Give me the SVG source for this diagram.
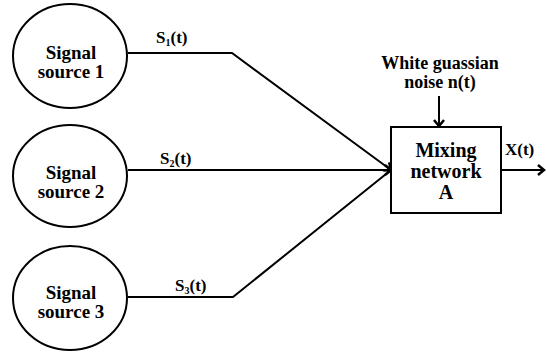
<svg xmlns="http://www.w3.org/2000/svg" width="547" height="353" viewBox="0 0 547 353">
<defs>
<style>
.n{fill:#fff;stroke:#000;stroke-width:2}
.t{font-family:"Liberation Serif",serif;font-weight:bold;font-size:19px;fill:#000;text-anchor:middle}
.b{font-size:20px}
.w{font-size:18px}
.l{font-family:"Liberation Serif",serif;font-weight:bold;font-size:17px;fill:#000}
.c{fill:none;stroke:#000;stroke-width:2}
</style>
<marker id="ah" markerWidth="12" markerHeight="12" refX="9" refY="6" orient="auto" markerUnits="userSpaceOnUse">
<path d="M3,1 L9,6 L3,11" fill="none" stroke="#000" stroke-width="2.5"/>
</marker>
</defs>
<rect width="547" height="353" fill="#fff"/>
<g id="connectors">
<polyline class="c" points="128,53 232,53 391,170" marker-end="url(#ah)"/>
<line class="c" x1="128" y1="170" x2="391" y2="170" marker-end="url(#ah)"/>
<polyline class="c" points="128,297 233,297 391,170"/>
<line class="c" x1="439" y1="96" x2="439" y2="126" marker-end="url(#ah)"/>
<line class="c" x1="501" y1="170" x2="544" y2="170" marker-end="url(#ah)"/>
<text class="l" x="156" y="43">S<tspan font-size="10" dy="3">1</tspan><tspan dy="-3">(t)</tspan></text>
<text class="l" x="160" y="164">S<tspan font-size="10" dy="3">2</tspan><tspan dy="-3">(t)</tspan></text>
<text class="l" x="175" y="291">S<tspan font-size="10" dy="3">3</tspan><tspan dy="-3">(t)</tspan></text>
<text class="l" x="505" y="155">X(t)</text>
</g>
<g id="src1">
<ellipse class="n" cx="70" cy="56" rx="57" ry="52"/>
<text class="t" x="71" y="59">Signal</text>
<text class="t" x="71" y="78">source 1</text>
</g>
<g id="src2">
<ellipse class="n" cx="70" cy="176" rx="57" ry="51"/>
<text class="t" x="71" y="179">Signal</text>
<text class="t" x="71" y="198">source 2</text>
</g>
<g id="src3">
<ellipse class="n" cx="70" cy="298" rx="57" ry="52"/>
<text class="t" x="71" y="299">Signal</text>
<text class="t" x="71" y="318">source 3</text>
</g>
<g id="mix">
<rect class="n" x="391" y="127" width="110" height="86"/>
<text class="t b" x="446" y="157">Mixing</text>
<text class="t b" x="446" y="178">network</text>
<text class="t b" x="446" y="199">A</text>
</g>
<g id="noise">
<text class="t w" x="440" y="69">White guassian</text>
<text class="t w" x="440" y="88">noise n(t)</text>
</g>
</svg>
